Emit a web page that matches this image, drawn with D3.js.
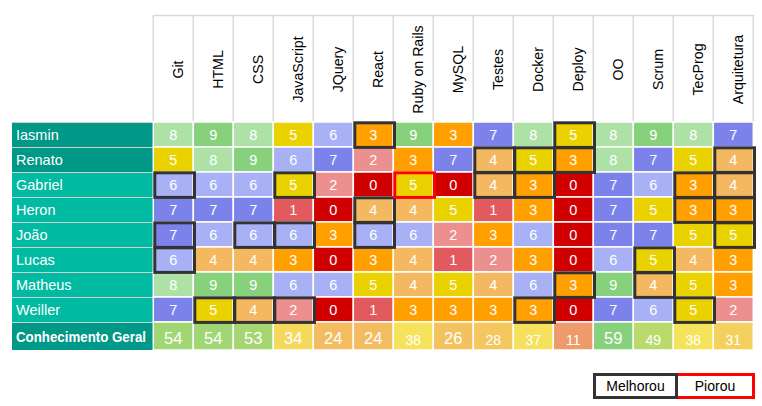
<!DOCTYPE html>
<html>
<head>
<meta charset="utf-8">
<script src="https://cdn.jsdelivr.net/npm/d3@7"></script>
<style>
  html, body { margin: 0; padding: 0; background: #fff; }
  svg { display: block; font-family: Arial, "Liberation Sans", sans-serif; }
</style>
</head>
<body>
<svg id="chart" width="762" height="406"></svg>
<script>
// ---- data ----
const skills = ["Git", "HTML", "CSS", "JavaScript", "JQuery", "React", "Ruby on Rails", "MySQL",
                "Testes", "Docker", "Deploy", "OO", "Scrum", "TecProg", "Arquitetura"];
const people = ["Iasmin", "Renato", "Gabriel", "Heron", "João", "Lucas", "Matheus", "Weiller"];
const scoresIasmin  = [8, 9, 8, 5, 6, 3, 9, 3, 7, 8, 5, 8, 9, 8, 7];
const scoresRenato  = [5, 8, 9, 6, 7, 2, 3, 7, 4, 5, 3, 8, 7, 5, 4];
const scoresGabriel = [6, 6, 6, 5, 2, 0, 5, 0, 4, 3, 0, 7, 6, 3, 4];
const scoresHeron   = [7, 7, 7, 1, 0, 4, 4, 5, 1, 3, 0, 7, 5, 3, 3];
const scoresJoao    = [7, 6, 6, 6, 3, 6, 6, 2, 3, 6, 0, 7, 7, 5, 5];
const scoresLucas   = [6, 4, 4, 3, 0, 3, 4, 1, 2, 3, 0, 6, 5, 4, 3];
const scoresMatheus = [8, 9, 9, 6, 6, 5, 4, 5, 4, 6, 3, 9, 4, 5, 3];
const scoresWeiller = [7, 5, 4, 2, 0, 1, 3, 3, 3, 3, 0, 7, 6, 5, 2];
const totalLabel = "Conhecimento Geral";
const totals = [54, 54, 53, 34, 24, 24, 38, 26, 28, 37, 11, 59, 49, 38, 31];
// change markers: [person, skill]
const improved = [
  ["Iasmin", "React"], ["Iasmin", "Deploy"],
  ["Renato", "Testes"], ["Renato", "Docker"], ["Renato", "Deploy"], ["Renato", "Arquitetura"],
  ["Gabriel", "Git"], ["Gabriel", "JavaScript"], ["Gabriel", "Testes"], ["Gabriel", "Docker"],
  ["Gabriel", "TecProg"], ["Gabriel", "Arquitetura"],
  ["Heron", "React"], ["Heron", "TecProg"], ["Heron", "Arquitetura"],
  ["João", "Git"], ["João", "CSS"], ["João", "JavaScript"], ["João", "React"], ["João", "Arquitetura"],
  ["Lucas", "Git"], ["Lucas", "Scrum"],
  ["Matheus", "Deploy"], ["Matheus", "Scrum"],
  ["Weiller", "HTML"], ["Weiller", "CSS"], ["Weiller", "JavaScript"], ["Weiller", "Docker"], ["Weiller", "TecProg"]
];
const worsened = [["Gabriel", "Ruby on Rails"]];
const legendLabels = ["Melhorou", "Piorou"];

const scores = [scoresIasmin, scoresRenato, scoresGabriel, scoresHeron, scoresJoao,
                scoresLucas, scoresMatheus, scoresWeiller];

// ---- layout ----
const svg = d3.select("#chart");
const labelX0 = 12, gridX0 = 153.3, gridX1 = 753.3;
const headerTop = 15, gridTop = 122, rowH = 25, totalH = 28;

const x = d3.scaleBand().domain(skills).range([gridX0, gridX1]);
const y = d3.scaleBand().domain(people).range([gridTop, gridTop + rowH * people.length]);
const totalY = gridTop + rowH * people.length;

const cellColor = d3.scaleOrdinal()
  .domain([0, 1, 2, 3, 4, 5, 6, 7, 8, 9])
  .range(["#d00000", "#e25a5e", "#ec8f8f", "#ffa000", "#f4b860",
          "#ead200", "#a8b1f5", "#7b83eb", "#aee1a6", "#87d17c"]);
const totalColor = d3.scaleLinear()
  .domain([11, 24, 38, 59])
  .range(["#ee9a6b", "#f3bc60", "#f5e45b", "#87d17c"]);

// header
const hdr = svg.append("g");
hdr.append("line").attr("x1", gridX0).attr("x2", gridX1)
  .attr("y1", headerTop + 0.5).attr("y2", headerTop + 0.5)
  .attr("stroke", "#d9d9d9").attr("stroke-width", 1.5);
hdr.selectAll("line.v").data(skills.concat(["end"])).join("line").attr("class", "v")
  .attr("x1", (d, i) => gridX0 + i * x.bandwidth())
  .attr("x2", (d, i) => gridX0 + i * x.bandwidth())
  .attr("y1", headerTop).attr("y2", gridTop)
  .attr("stroke", "#d9d9d9").attr("stroke-width", 1.5);
hdr.selectAll("text").data(skills).join("text")
  .attr("transform", d => `translate(${x(d) + x.bandwidth() / 2 + 9.5},${(headerTop + gridTop) / 2 + 1}) rotate(-90)`)
  .attr("text-anchor", "middle")
  .attr("font-size", 14.2)
  .attr("fill", "#000")
  .text(d => d);

// row labels
const lab = svg.append("g");
const labelColor = (i) => (i < 2 ? "#009887" : "#00baa2");
lab.selectAll("rect").data(people).join("rect")
  .attr("x", labelX0).attr("y", d => y(d))
  .attr("width", gridX0 - labelX0).attr("height", rowH)
  .attr("fill", (d, i) => labelColor(i));
lab.selectAll("line").data(people).join("line")
  .attr("x1", labelX0).attr("x2", gridX0)
  .attr("y1", d => y(d) + 0.5).attr("y2", d => y(d) + 0.5)
  .attr("stroke", "#cfcfcf").attr("stroke-width", 1);
lab.selectAll("text").data(people).join("text")
  .attr("x", 16).attr("y", d => y(d) + rowH / 2 + 5.5)
  .attr("font-size", 14.5).attr("fill", "#fff")
  .text(d => d);
lab.append("rect").attr("x", labelX0).attr("y", totalY)
  .attr("width", gridX0 - labelX0).attr("height", totalH).attr("fill", "#009887");
lab.append("line").attr("x1", labelX0).attr("x2", gridX0)
  .attr("y1", totalY + 0.5).attr("y2", totalY + 0.5)
  .attr("stroke", "#cfcfcf").attr("stroke-width", 1);
lab.append("text").attr("x", 16).attr("y", totalY + totalH / 2 + 6)
  .attr("font-size", 14.5).attr("font-weight", "bold").attr("fill", "#fff")
  .attr("textLength", 130).attr("lengthAdjust", "spacingAndGlyphs")
  .text(totalLabel);

// cells
const cells = [];
people.forEach((p, r) => skills.forEach((s, c) => cells.push({ p, s, v: scores[r][c] })));
const cg = svg.append("g");
cg.selectAll("rect").data(cells).join("rect")
  .attr("x", d => x(d.s)).attr("y", d => y(d.p))
  .attr("width", x.bandwidth()).attr("height", rowH)
  .attr("fill", d => cellColor(d.v))
  .attr("stroke", "#fff").attr("stroke-width", 1.5);
cg.selectAll("text").data(cells).join("text")
  .attr("x", d => x(d.s) + x.bandwidth() / 2)
  .attr("y", d => y(d.p) + rowH / 2 + 5.5)
  .attr("text-anchor", "middle").attr("font-size", 14.5).attr("fill", "#fff")
  .text(d => d.v);

// totals row
const bigTotals = new Set(["Git", "HTML", "CSS", "JavaScript", "JQuery", "React", "MySQL", "OO"]);
const tg = svg.append("g");
tg.selectAll("rect").data(skills).join("rect")
  .attr("x", d => x(d)).attr("y", totalY)
  .attr("width", x.bandwidth()).attr("height", totalH)
  .attr("fill", (d, i) => totalColor(totals[i]))
  .attr("stroke", "#fff").attr("stroke-width", 1.5);
tg.selectAll("text").data(skills).join("text")
  .attr("x", d => x(d) + x.bandwidth() / 2)
  .attr("y", d => totalY + (bigTotals.has(d) ? 22 : 23))
  .attr("text-anchor", "middle")
  .attr("font-size", d => (bigTotals.has(d) ? 16.5 : 14))
  .attr("fill", "#fff")
  .text((d, i) => totals[i]);

// change boxes
const bx = svg.append("g").attr("fill", "none");
bx.selectAll("rect.imp").data(improved).join("rect").attr("class", "imp")
  .attr("x", d => x(d[1]) + 1.5).attr("y", d => y(d[0]) + 0.8)
  .attr("width", x.bandwidth() - 0.3).attr("height", rowH - 0.4)
  .attr("stroke", "#333").attr("stroke-width", 3);
bx.selectAll("rect.wor").data(worsened).join("rect").attr("class", "wor")
  .attr("x", d => x(d[1]) + 1.5).attr("y", d => y(d[0]) + 0.8)
  .attr("width", x.bandwidth() - 0.3).attr("height", rowH - 0.4)
  .attr("stroke", "#f00").attr("stroke-width", 3);

// legend
const lg = svg.append("g");
const legX = d3.scaleOrdinal().domain(legendLabels).range([594.5, 676.5]);
const legW = d3.scaleOrdinal().domain(legendLabels).range([82, 77]);
const legStroke = d3.scaleOrdinal().domain(legendLabels).range(["#333", "#f00"]);
lg.selectAll("rect").data(legendLabels).join("rect")
  .attr("x", d => legX(d)).attr("y", 374.5)
  .attr("width", d => legW(d)).attr("height", 23)
  .attr("fill", "#fff").attr("stroke", d => legStroke(d)).attr("stroke-width", 3);
lg.select("rect").raise();
lg.selectAll("text").data(legendLabels).join("text")
  .attr("x", d => legX(d) + legW(d) / 2)
  .attr("y", 391)
  .attr("text-anchor", "middle").attr("font-size", 14).attr("fill", "#000")
  .text(d => d);
</script>
</body>
</html>
